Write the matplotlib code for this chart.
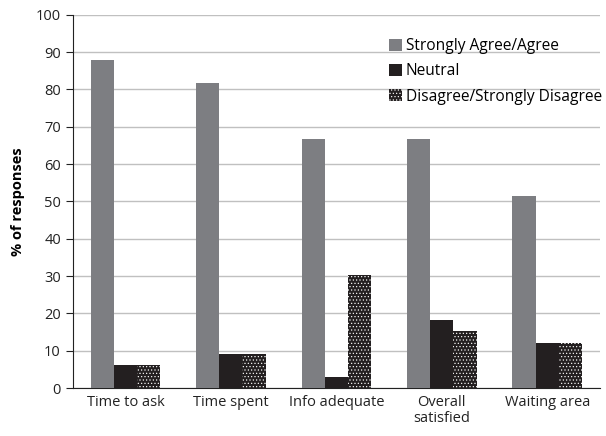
import matplotlib
matplotlib.use("Agg")
import matplotlib.pyplot as plt
import numpy as np

categories = ["Time to ask", "Time spent", "Info adequate", "Overall\nsatisfied", "Waiting area"]
agree = [87.9, 81.8, 66.7, 66.7, 51.5]
neutral = [6.1, 9.1, 3.0, 18.2, 12.1]
disagree = [6.1, 9.1, 30.3, 15.2, 12.1]
series_names = ["Strongly Agree/Agree", "Neutral", "Disagree/Strongly Disagree"]

plt.rcParams['font.family'] = ['Open Sans', 'DejaVu Sans']
plt.rcParams['hatch.linewidth'] = 0.45

fig = plt.figure(figsize=(6.06, 4.36), dpi=100)
ax = fig.add_axes([0.12, 0.110, 0.87, 0.856])

x = np.arange(len(categories))
w = 0.22
ax.bar(x - w, agree, w, color="#7d7e82", label=series_names[0], zorder=3)
ax.bar(x, neutral, w, color="#231f20", label=series_names[1], zorder=3)
ax.bar(x + w, disagree, w, color="#231f20", edgecolor="white", linewidth=0,
       hatch=".....", label=series_names[2], zorder=3)

ax.set_ylim(0, 100)
ax.set_xlim(-0.5, len(categories) - 0.5)
ax.set_yticks(np.arange(0, 101, 10))
ax.yaxis.grid(True, color="#c0c0c0", linewidth=1.0, zorder=0)
ax.set_axisbelow(True)
ax.set_xticks(x)
ax.set_xticklabels(categories, fontsize=10.5, color="#222222", linespacing=1.1)
ax.tick_params(axis="x", length=0, pad=5)
ax.tick_params(axis="y", labelsize=10.5, length=5, colors="#222222")
for s in ["top", "right"]:
    ax.spines[s].set_visible(False)
ax.spines["left"].set_color("#222222")
ax.spines["bottom"].set_color("#222222")
ax.set_ylabel("% of responses", fontsize=10.5, fontweight="bold", labelpad=8)

ax.legend(loc="upper right", bbox_to_anchor=(1.03, 0.975), frameon=False,
          fontsize=11.2, handlelength=0.8, handleheight=0.8, handletextpad=0.25,
          labelspacing=0.6)

fig.savefig("out.png", dpi=100)
